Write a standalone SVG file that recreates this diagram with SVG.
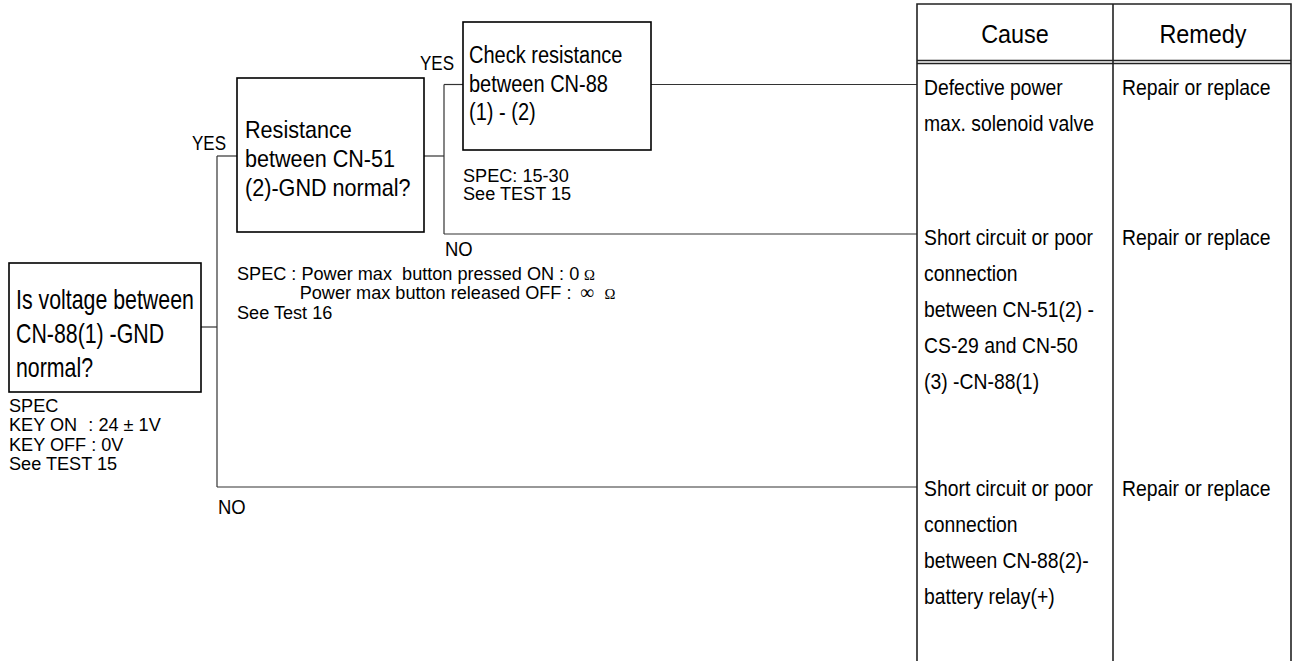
<svg xmlns="http://www.w3.org/2000/svg" width="1298" height="661" viewBox="0 0 1298 661">
<style>
text { font-family: "Liberation Sans", Arial, Helvetica, sans-serif; fill: #000; }
.box { fill: #fff; stroke: #000; stroke-width: 1.6; }
.conn { fill: none; stroke: #333; stroke-width: 1.2; }
.tbl { fill: none; stroke: #222; stroke-width: 1.6; }
.b1 { font-size: 27px; }
.b2 { font-size: 24px; }
.b3 { font-size: 23px; }
.hd { font-size: 26px; }
.tx { font-size: 22px; }
.sm { font-size: 18.5px; }
.lb { font-size: 21px; }
.sym { font-family: "Liberation Serif", "Times New Roman", serif; }
</style>
<rect width="1298" height="661" fill="#fff"/>

<g id="connectors">
  <line class="conn" x1="201" y1="327" x2="217" y2="327"/>
  <line class="conn" x1="217" y1="156" x2="217" y2="487"/>
  <line class="conn" x1="217" y1="156" x2="237" y2="156"/>
  <line class="conn" x1="217" y1="487" x2="917" y2="487"/>
  <line class="conn" x1="424" y1="156" x2="444" y2="156"/>
  <line class="conn" x1="444" y1="84.5" x2="444" y2="234"/>
  <line class="conn" x1="444" y1="84.5" x2="463" y2="84.5"/>
  <line class="conn" x1="444" y1="234" x2="917" y2="234"/>
  <line class="conn" x1="651" y1="84.5" x2="917" y2="84.5"/>
  <text class="lb" transform="translate(192,150) scale(0.81,1)">YES</text>
  <text class="lb" transform="translate(420,70) scale(0.81,1)">YES</text>
  <text class="lb" transform="translate(445,256) scale(0.88,1)">NO</text>
  <text class="lb" transform="translate(218,514) scale(0.88,1)">NO</text>
</g>

<g id="node-voltage">
  <rect class="box" x="9" y="263" width="192" height="129"/>
  <text class="b1" transform="translate(16,309) scale(0.79,1)">
    <tspan x="0" y="0">Is voltage between</tspan>
    <tspan x="0" y="34">CN-88(1) -GND</tspan>
    <tspan x="0" y="68">normal?</tspan>
  </text>
  <text class="sm" transform="translate(9,412) scale(0.98,1)">
    <tspan x="0" y="0">SPEC</tspan>
    <tspan x="0" y="19.5">KEY ON</tspan><tspan x="81" y="19.5">: 24 ± 1V</tspan>
    <tspan x="0" y="39">KEY OFF : 0V</tspan>
    <tspan x="0" y="58.5">See TEST 15</tspan>
  </text>
</g>

<g id="node-resistance">
  <rect class="box" x="237" y="78" width="187" height="154"/>
  <text class="b2" transform="translate(245,138) scale(0.9,1)">
    <tspan x="0" y="0">Resistance</tspan>
    <tspan x="0" y="29.5">between CN-51</tspan>
    <tspan x="0" y="58.5">(2)-GND normal?</tspan>
  </text>
  <text class="sm" transform="translate(237,280) scale(0.98,1)">
    <tspan x="0" y="0">SPEC : Power max&#160; button pressed ON : 0</tspan><tspan class="sym" x="354" y="0" font-size="15">Ω</tspan>
    <tspan x="64" y="19.5">Power max button released OFF :</tspan><tspan class="sym" x="350" y="19.5" font-size="20">∞</tspan><tspan class="sym" x="375" y="19.5" font-size="15">Ω</tspan>
    <tspan x="0" y="39">See Test 16</tspan>
  </text>
</g>

<g id="node-check">
  <rect class="box" x="463" y="22" width="188" height="128"/>
  <text class="b3" transform="translate(469,63) scale(0.87,1)">
    <tspan x="0" y="0">Check resistance</tspan>
    <tspan x="0" y="29">between CN-88</tspan>
    <tspan x="0" y="57.5">(1) - (2)</tspan>
  </text>
  <text class="sm" transform="translate(463,181.5) scale(0.98,1)">
    <tspan x="0" y="0">SPEC: 15-30</tspan>
    <tspan x="0" y="19">See TEST 15</tspan>
  </text>
</g>

<g id="table">
  <polyline class="tbl" points="917,661 917,4 1291,4 1291,661"/>
  <line class="tbl" x1="1113" y1="4" x2="1113" y2="661"/>
  <line class="tbl" x1="917" y1="60.5" x2="1291" y2="60.5" stroke-width="1.2"/>
  <line class="tbl" x1="917" y1="63.5" x2="1291" y2="63.5" stroke-width="1.2"/>
  <text class="hd" text-anchor="middle" transform="translate(1015,43) scale(0.9,1)">Cause</text>
  <text class="hd" text-anchor="middle" transform="translate(1203,43) scale(0.9,1)">Remedy</text>
</g>

<g id="cause-1">
  <text class="tx" transform="translate(924,95) scale(0.88,1)">
    <tspan x="0" y="0">Defective power</tspan>
    <tspan x="0" y="36">max. solenoid valve</tspan>
  </text>
  <text class="tx" transform="translate(1122,95) scale(0.88,1)">Repair or replace</text>
</g>

<g id="cause-2">
  <text class="tx" transform="translate(924,245) scale(0.88,1)">
    <tspan x="0" y="0">Short circuit or poor</tspan>
    <tspan x="0" y="36">connection</tspan>
    <tspan x="0" y="72">between CN-51(2) -</tspan>
    <tspan x="0" y="108">CS-29 and CN-50</tspan>
    <tspan x="0" y="144">(3) -CN-88(1)</tspan>
  </text>
  <text class="tx" transform="translate(1122,245) scale(0.88,1)">Repair or replace</text>
</g>

<g id="cause-3">
  <text class="tx" transform="translate(924,496) scale(0.88,1)">
    <tspan x="0" y="0">Short circuit or poor</tspan>
    <tspan x="0" y="36">connection</tspan>
    <tspan x="0" y="72">between CN-88(2)-</tspan>
    <tspan x="0" y="108">battery relay(+)</tspan>
  </text>
  <text class="tx" transform="translate(1122,496) scale(0.88,1)">Repair or replace</text>
</g>
</svg>
